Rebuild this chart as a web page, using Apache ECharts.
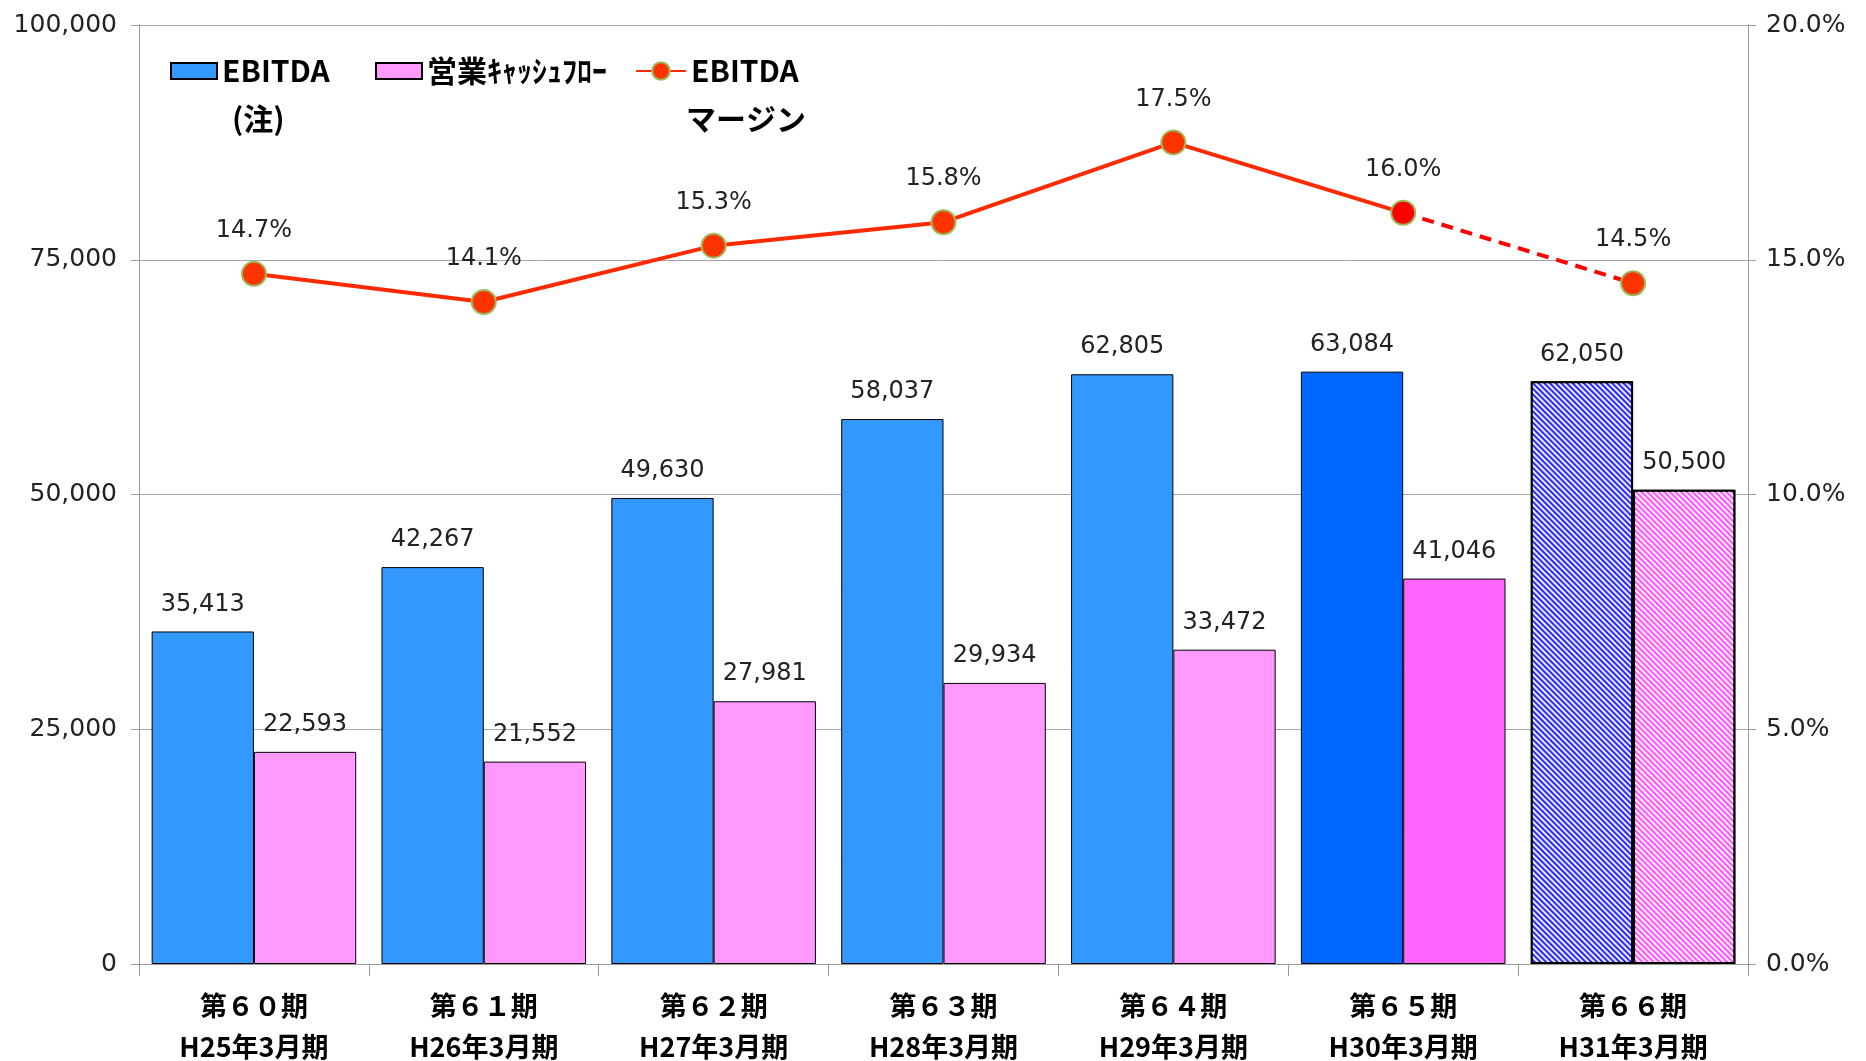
<!DOCTYPE html>
<html>
<head>
<meta charset="utf-8">
<script src="https://cdn.jsdelivr.net/npm/echarts@6/dist/echarts.min.js"></script>
<style>
  html, body { margin: 0; padding: 0; background: #fff; }
  #chart { width: 1866px; height: 1061px; }
</style>
</head>
<body>
<div id="chart"></div>
<script>
// data
let categories = [
    '第６０期\nH25年3月期', '第６１期\nH26年3月期', '第６２期\nH27年3月期', '第６３期\nH28年3月期',
    '第６４期\nH29年3月期', '第６５期\nH30年3月期', '第６６期\nH31年3月期'
];
let ebitda = [35413, 42267, 49630, 58037, 62805, 63084, 62050];
let cashFlow = [22593, 21552, 27981, 29934, 33472, 41046, 50500];
let margin = [14.7, 14.1, 15.3, 15.8, 17.5, 16.0, 14.5];
let leftTicks = [0, 25000, 50000, 75000, 100000];
let rightTicks = [0, 5, 10, 15, 20];

let labelFont = 'DejaVu Sans';
let jpFont = 'Noto Sans CJK JP';
let lastActual = 5;   // 第65期 = latest actual, 第66期 = forecast

function fmt(v) {
    return Number(v).toLocaleString('en-US');
}

function hatch() {
    return {
        symbol: 'rect',
        color: 'rgba(255,255,255,0.9)',
        dashArrayX: [1, 0],
        dashArrayY: [1.5, 1.5],
        rotation: Math.PI / 4,
        symbolSize: 1
    };
}

let ebitdaData = ebitda.map((v, i) => {
    if (i === lastActual) return {value: v, itemStyle: {color: '#0066FF'}};
    if (i > lastActual) return {value: v, itemStyle: {color: '#2A2AFF', borderWidth: 2, decal: hatch()}};
    return v;
});
let cashData = cashFlow.map((v, i) => {
    if (i === lastActual) return {value: v, itemStyle: {color: '#FF66FF'}};
    if (i > lastActual) return {value: v, itemStyle: {color: '#FF55FF', borderWidth: 2, decal: hatch()}};
    return v;
});
let marginSolid = margin.map((v, i) => {
    if (i > lastActual) return null;
    if (i === lastActual) return {value: v, itemStyle: {color: '#FF0000'}};
    return v;
});
let marginDashed = margin.map((v, i) => {
    if (i < lastActual) return null;
    if (i === lastActual) return {value: v, symbol: 'none', label: {show: false}};
    return v;
});

let ctx = document.getElementById('chart');
let chart = echarts.init(ctx, null, {renderer: 'canvas'});

let barLabel = {
    show: true,
    position: 'top',
    distance: 15,
    fontFamily: labelFont,
    fontSize: 24,
    color: '#222',
    formatter: p => fmt(p.value)
};
let lineLabel = {
    show: true,
    position: 'top',
    distance: 18,
    fontFamily: labelFont,
    fontSize: 24,
    color: '#222',
    formatter: p => p.value.toFixed(1) + '%'
};

let legendText = {
    fontFamily: jpFont,
    fontSize: 30,
    fontWeight: 'bold',
    color: '#000',
    lineHeight: 34
};

let option = {
    animation: false,
    backgroundColor: '#fff',
    grid: {left: 139, right: 118, top: 25, bottom: 97, outerBoundsMode: 'none'},
    legend: [{
        data: ['EBITDA'],
        left: 165, top: 49,
        icon: 'rect',
        itemWidth: 46, itemHeight: 16, textStyle: legendText
    }, {
        data: ['営業ｷｬｯｼｭﾌﾛｰ'],
        left: 370, top: 49,
        icon: 'rect',
        itemWidth: 46, itemHeight: 16, textStyle: legendText
    }, {
        data: ['EBITDAマージン'],
        left: 630, top: 49,
        itemWidth: 50, itemHeight: 22, textStyle: legendText,
        formatter: () => 'EBITDA'
    }],
    graphic: [{
        type: 'text', left: 232, top: 104,
        style: {text: '(注)', fontFamily: jpFont, fontSize: 30, fontWeight: 'bold', fill: '#000'}
    }, {
        type: 'text', left: 686, top: 104,
        style: {text: 'マージン', fontFamily: jpFont, fontSize: 30, fontWeight: 'bold', fill: '#000'}
    }],
    xAxis: {
        type: 'category',
        data: categories,
        axisLine: {lineStyle: {color: '#9a9a9a', width: 1}},
        axisTick: {show: true, length: 12, lineStyle: {color: '#9a9a9a'}},
        axisLabel: {
            margin: 21,
            fontFamily: jpFont,
            fontSize: 27,
            fontWeight: 'bold',
            lineHeight: 41,
            color: '#000'
        }
    },
    yAxis: [{
        type: 'value',
        min: leftTicks[0],
        max: leftTicks[leftTicks.length - 1],
        interval: leftTicks[1] - leftTicks[0],
        axisLine: {show: true, lineStyle: {color: '#9a9a9a'}},
        axisTick: {show: true, length: 8, lineStyle: {color: '#9a9a9a'}},
        splitLine: {show: true, lineStyle: {color: '#a6a6a6', width: 1}},
        axisLabel: {
            margin: 22,
            fontFamily: labelFont,
            fontSize: 25,
            color: '#222',
            formatter: v => fmt(v)
        }
    }, {
        type: 'value',
        min: rightTicks[0],
        max: rightTicks[rightTicks.length - 1],
        interval: rightTicks[1] - rightTicks[0],
        axisLine: {show: true, lineStyle: {color: '#9a9a9a'}},
        axisTick: {show: true, length: 8, lineStyle: {color: '#9a9a9a'}},
        splitLine: {show: false},
        axisLabel: {
            margin: 18,
            fontFamily: labelFont,
            fontSize: 25,
            color: '#222',
            formatter: v => v.toFixed(1) + '%'
        }
    }],
    series: [{
        name: 'EBITDA',
        type: 'bar',
        barGap: '0%',
        barCategoryGap: '11%',
        itemStyle: {color: '#3399FF', borderColor: '#000', borderWidth: 1},
        label: barLabel,
        data: ebitdaData
    }, {
        name: '営業ｷｬｯｼｭﾌﾛｰ',
        type: 'bar',
        barGap: '0%',
        barCategoryGap: '11%',
        itemStyle: {color: '#FF99FF', borderColor: '#000', borderWidth: 1},
        label: barLabel,
        data: cashData
    }, {
        name: 'EBITDAマージン',
        type: 'line',
        yAxisIndex: 1,
        z: 5,
        symbol: 'circle',
        symbolSize: 24,
        lineStyle: {color: '#FF2A00', width: 4},
        itemStyle: {color: '#FF3300', borderColor: '#9BBB59', borderWidth: 2},
        label: lineLabel,
        data: marginSolid
    }, {
        name: 'EBITDAマージン(予)',
        type: 'line',
        yAxisIndex: 1,
        z: 4,
        symbol: 'circle',
        symbolSize: 24,
        lineStyle: {color: '#FF0000', width: 4, type: [12, 8]},
        itemStyle: {color: '#FF3300', borderColor: '#9BBB59', borderWidth: 2},
        label: lineLabel,
        data: marginDashed
    }]
};

chart.setOption(option, true);

window.onresize = () => {
    chart.resize();
};
</script>
</body>
</html>
